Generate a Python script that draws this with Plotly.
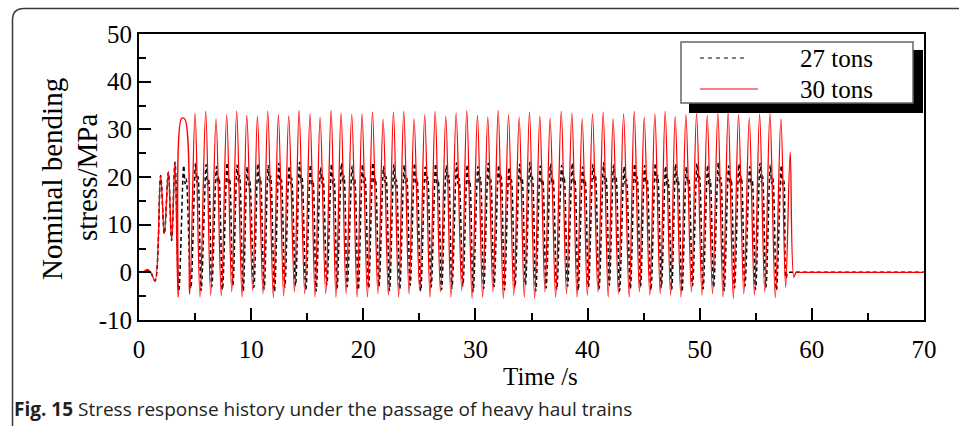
import plotly.graph_objects as go

# Stress extrema (time s, nominal bending stress MPa) for the 30-ton train
red_extrema = [
    (0.0, 0.0), (0.35, 0.1), (0.75, 0.5), (1.05, 0.0), (1.43, -1.8), (1.93, 20.3),
    (2.26, 8.1), (2.62, 21.0), (2.91, 6.7), (3.21, 23.1), (3.48, -5.2), (3.80, 32.3),
    (4.10, 32.1), (4.52, -4.6), (5.00, 33.4), (5.44, -5.2), (5.95, 33.75), (6.39, -4.8),
    (6.87, 32.2), (7.34, -5.0), (7.82, 33.05), (8.27, -4.1), (8.71, 33.8), (9.19, -5.2),
    (9.61, 32.9), (10.14, -3.8), (10.56, 32.7), (11.06, -4.5), (11.48, 33.8), (11.98, -5.3),
    (12.43, 33.05), (12.90, -5.0), (13.35, 32.8), (13.86, -4.1), (14.27, 33.95), (14.78, -4.5),
    (15.25, 33.25), (15.70, -5.2), (16.15, 32.55), (16.65, -4.5), (17.13, 33.95), (17.56, -5.2),
    (18.02, 33.4), (18.47, -4.5), (18.97, 33.1), (19.45, -5.2), (19.89, 33.25), (20.37, -5.2),
    (20.82, 33.6), (21.30, -4.5), (21.77, 32.1), (22.24, -4.8), (22.69, 33.6), (23.15, -5.2),
    (23.61, 33.75), (24.08, -4.5), (24.53, 32.2), (25.02, -3.8), (25.48, 33.05), (25.95, -5.2),
    (26.41, 33.75), (26.88, -4.1), (27.36, 32.7), (27.81, -5.2), (28.28, 33.4), (28.78, -3.8),
    (29.23, 33.95), (29.70, -5.5), (30.18, 32.9), (30.64, -5.2), (31.10, 32.55), (31.56, -4.1),
    (32.03, 33.95), (32.49, -5.5), (32.95, 33.05), (33.42, -4.8), (33.90, 32.55), (34.36, -5.2),
    (34.82, 33.6), (35.28, -5.5), (35.74, 32.7), (36.20, -4.1), (36.66, 32.35), (37.15, -5.2),
    (37.65, 33.75), (38.12, -4.5), (38.60, 33.4), (39.06, -5.2), (39.52, 32.2), (39.98, -4.8),
    (40.44, 33.25), (40.92, -4.1), (41.39, 33.6), (41.84, -5.2), (42.28, 32.2), (42.75, -4.5),
    (43.21, 33.25), (43.71, -5.2), (44.16, 33.75), (44.62, -4.1), (45.05, 32.55), (45.55, -4.8),
    (46.00, 33.25), (46.48, -4.5), (46.92, 33.75), (47.40, -4.8), (47.81, 32.7), (48.32, -5.2),
    (48.77, 33.1), (49.26, -4.1), (49.72, 33.4), (50.20, -4.8), (50.67, 32.9), (51.14, -4.5),
    (51.62, 33.4), (52.08, -5.2), (52.54, 33.6), (53.00, -5.5), (53.46, 33.1), (53.93, -4.5),
    (54.42, 32.4), (54.88, -4.8), (55.34, 33.25), (55.80, -4.1), (56.26, 33.4), (56.74, -5.3),
    (57.24, 32.2), (57.66, -3.1), (58.07, 25.2), (58.40, -1.0), (58.60, 0.0), (58.85, 0.0),
    (60.0, 0.0), (70.0, 0.0),
]

# Stress extrema for the 27-ton train (main peak, shoulder dip, shoulder, trough per axle group)
black_extrema = [
    (0.0, 0.0), (0.35, 0.1), (0.75, 0.5), (1.05, 0.0), (1.43, -1.8), (1.93, 20.3),
    (2.26, 8.1), (2.62, 21.0), (2.91, 6.7), (3.21, 23.1), (3.55, -3.9),
    (3.99, 22.4), (4.11, 18.6), (4.21, 19.6), (4.62, -3.3),
    (5.04, 22.9), (5.16, 18.9), (5.26, 20.1), (5.54, -3.8),
    (5.99, 22.6), (6.11, 18.4), (6.21, 19.4), (6.49, -3.0),
    (6.91, 22.2), (7.03, 18.8), (7.13, 20.0), (7.44, -3.6),
    (7.86, 23.0), (7.98, 18.5), (8.08, 19.7), (8.37, -2.7),
    (8.75, 22.5), (8.87, 19.0), (8.97, 20.3), (9.29, -3.9),
    (9.65, 22.1), (9.77, 18.3), (9.87, 19.2), (10.24, -3.2),
    (10.60, 22.8), (10.72, 18.7), (10.82, 19.9), (11.16, -3.5),
    (11.52, 22.4), (11.64, 18.9), (11.74, 20.2), (12.08, -4.0),
    (12.47, 22.9), (12.59, 18.4), (12.69, 19.5), (13.00, -3.1),
    (13.39, 22.3), (13.51, 18.6), (13.61, 19.8), (13.96, -2.8),
    (14.31, 23.1), (14.43, 18.9), (14.53, 20.0), (14.88, -3.6),
    (15.29, 22.6), (15.41, 18.2), (15.51, 19.3), (15.80, -3.9),
    (16.19, 22.0), (16.31, 18.7), (16.41, 19.9), (16.75, -2.6),
    (17.17, 22.7), (17.29, 18.5), (17.39, 19.6), (17.66, -3.4),
    (18.06, 22.9), (18.18, 19.0), (18.28, 20.2), (18.57, -3.0),
    (19.01, 22.3), (19.13, 18.4), (19.23, 19.5), (19.55, -3.7),
    (19.93, 22.6), (20.05, 18.8), (20.15, 19.9), (20.47, -3.3),
    (20.86, 23.0), (20.98, 18.6), (21.08, 19.7), (21.40, -2.9),
    (21.81, 22.2), (21.93, 18.9), (22.03, 20.1), (22.34, -3.8),
    (22.73, 22.7), (22.85, 18.3), (22.95, 19.4), (23.25, -3.5),
    (23.65, 22.5), (23.77, 18.7), (23.87, 19.8), (24.18, -2.7),
    (24.57, 22.9), (24.69, 18.5), (24.79, 19.6), (25.12, -3.9),
    (25.52, 22.1), (25.64, 18.8), (25.74, 20.0), (26.05, -3.1),
    (26.45, 22.8), (26.57, 18.4), (26.67, 19.5), (26.98, -3.6),
    (27.40, 22.4), (27.52, 18.9), (27.62, 20.3), (27.91, -3.3),
    (28.32, 23.0), (28.44, 18.6), (28.54, 19.7), (28.88, -2.8),
    (29.27, 22.6), (29.39, 18.2), (29.49, 19.3), (29.80, -4.0),
    (30.22, 22.2), (30.34, 18.8), (30.44, 19.9), (30.74, -3.4),
    (31.14, 22.9), (31.26, 18.5), (31.36, 19.6), (31.66, -3.0),
    (32.07, 22.5), (32.19, 19.0), (32.29, 20.2), (32.59, -3.7),
    (32.99, 22.0), (33.11, 18.3), (33.21, 19.4), (33.52, -3.2),
    (33.94, 22.7), (34.06, 18.7), (34.16, 19.8), (34.46, -2.6),
    (34.86, 23.1), (34.98, 18.9), (35.08, 20.0), (35.38, -3.9),
    (35.78, 22.3), (35.90, 18.4), (36.00, 19.5), (36.30, -3.3),
    (36.70, 22.8), (36.82, 18.6), (36.92, 19.7), (37.25, -3.6),
    (37.69, 22.4), (37.81, 18.8), (37.91, 20.1), (38.22, -2.9),
    (38.64, 22.9), (38.76, 18.5), (38.86, 19.6), (39.16, -3.8),
    (39.56, 22.1), (39.68, 18.3), (39.78, 19.4), (40.08, -3.1),
    (40.48, 22.6), (40.60, 18.9), (40.70, 20.2), (41.02, -3.5),
    (41.43, 23.0), (41.55, 18.6), (41.65, 19.8), (41.94, -2.7),
    (42.32, 22.5), (42.44, 18.7), (42.54, 19.9), (42.85, -3.9),
    (43.25, 22.2), (43.37, 18.4), (43.47, 19.5), (43.81, -3.4),
    (44.20, 22.8), (44.32, 18.8), (44.42, 20.0), (44.72, -3.0),
    (45.09, 22.4), (45.21, 18.5), (45.31, 19.6), (45.65, -3.7),
    (46.04, 22.9), (46.16, 18.9), (46.26, 20.3), (46.58, -3.2),
    (46.96, 22.3), (47.08, 18.3), (47.18, 19.4), (47.50, -3.6),
    (47.85, 22.7), (47.97, 18.7), (48.07, 19.8), (48.42, -4.1),
    (48.81, 22.1), (48.93, 18.6), (49.03, 19.7), (49.36, -2.8),
    (49.76, 22.8), (49.88, 18.9), (49.98, 20.1), (50.30, -3.5),
    (50.71, 22.5), (50.83, 18.4), (50.93, 19.5), (51.24, -3.1),
    (51.66, 23.0), (51.78, 18.8), (51.88, 19.9), (52.18, -3.8),
    (52.58, 22.3), (52.70, 18.5), (52.80, 19.6), (53.10, -3.3),
    (53.50, 22.7), (53.62, 18.7), (53.72, 20.0), (54.03, -2.9),
    (54.46, 22.2), (54.58, 18.3), (54.68, 19.4), (54.98, -3.6),
    (55.38, 22.9), (55.50, 18.9), (55.60, 20.2), (55.90, -3.2),
    (56.30, 22.5), (56.42, 18.6), (56.52, 19.7), (56.84, -3.7),
    (57.28, 22.4), (57.40, 18.4), (57.50, 19.2), (57.70, -1.2), (57.85, 0.0), (58.10, 0.0),
    (60.0, 0.0), (70.0, 0.0),
]

red_time = [t for t, _ in red_extrema]
red_stress = [v for _, v in red_extrema]
black_time = [t for t, _ in black_extrema]
black_stress = [v for _, v in black_extrema]

series_names = ["27 tons", "30 tons"]
x_tick_vals = [0, 10, 20, 30, 40, 50, 60, 70]
y_tick_vals = [-10, 0, 10, 20, 30, 40, 50]
y_tick_text = ["-10", "0", "10", "20", "30", "40", "50"]
y_title_lines = ["Nominal bending", "stress/MPa"]
x_title = "Time /s"
caption = "<b>Fig. 15</b> Stress response history under the passage of heavy haul trains"

# figure geometry in pixels
W, H = 959, 426
ML, MR, MT, MB = 139, 35, 34, 106
PW, PH = W - ML - MR, H - MT - MB


def px(x):
    return (x - ML) / PW


def py(y):
    return 1 - (y - MT) / PH


SERIF = "Liberation Serif"

fig = go.Figure()
fig.add_trace(go.Scatter(
    x=black_time, y=black_stress, mode="lines", name=series_names[0], showlegend=False,
    line=dict(color="black", width=1.5, dash="4px,3px", shape="spline", smoothing=1.0),
))
fig.add_trace(go.Scatter(
    x=red_time, y=red_stress, mode="lines", name=series_names[1], showlegend=False,
    line=dict(color="#ff0000", width=1.3, shape="spline", smoothing=1.0),
))

axis_common = dict(
    showline=True, linewidth=2, linecolor="black", mirror=True,
    showgrid=False, zeroline=False,
    ticks="inside", ticklen=12, tickwidth=2, tickcolor="black",
    tickfont=dict(family=SERIF, size=25, color="black"),
)

fig.update_xaxes(
    range=[0, 70], tickvals=x_tick_vals, ticklabelstandoff=6,
    minor=dict(ticks="inside", ticklen=7, tickwidth=2, tickcolor="black", dtick=5, tick0=0),
    **axis_common,
)
fig.update_yaxes(
    range=[-10, 50], tickvals=y_tick_vals, ticktext=y_tick_text,
    minor=dict(ticks="inside", ticklen=7, tickwidth=2, tickcolor="black", dtick=5, tick0=0),
    **axis_common,
)

shapes = [
    # card outline with rounded top-left corner
    dict(type="path", xref="paper", yref="paper",
         path=f"M {px(12.5)},{py(440)} L {px(12.5)},{py(20)} Q {px(12.5)},{py(8.5)} {px(24)},{py(8.5)} L {px(975)},{py(8.5)}",
         line=dict(color="#3a3a3a", width=1.5)),
    # legend drop shadow and box
    dict(type="rect", xref="paper", yref="paper", x0=px(689), x1=px(923), y0=py(113), y1=py(50),
         fillcolor="black", line=dict(width=0), layer="above"),
    dict(type="rect", xref="paper", yref="paper", x0=px(681), x1=px(913), y0=py(103), y1=py(42),
         fillcolor="white", line=dict(color="#666666", width=1.5), layer="above"),
    # legend samples
    dict(type="line", xref="paper", yref="paper", x0=px(700), x1=px(748), y0=py(58), y1=py(58),
         line=dict(color="black", width=1, dash="4px,4px"), layer="above"),
    dict(type="line", xref="paper", yref="paper", x0=px(700), x1=px(758), y0=py(89), y1=py(89),
         line=dict(color="#ff0000", width=1), layer="above"),
]

title_font = dict(family=SERIF, size=29, color="black")
annotations = [
    dict(text=series_names[0], xref="paper", yref="paper", x=px(798), y=py(58),
         xanchor="left", yanchor="middle", showarrow=False,
         font=dict(family=SERIF, size=25, color="black")),
    dict(text=series_names[1], xref="paper", yref="paper", x=px(798), y=py(89),
         xanchor="left", yanchor="middle", showarrow=False,
         font=dict(family=SERIF, size=25, color="black")),
    # axis titles
    dict(text=x_title, xref="paper", yref="paper", x=px(540), y=py(376),
         xanchor="center", yanchor="middle", showarrow=False,
         font=dict(family=SERIF, size=25, color="black")),
    dict(text=y_title_lines[0], xref="paper", yref="paper", x=px(52), y=py(179),
         xanchor="center", yanchor="middle", showarrow=False, textangle=-90, font=title_font),
    dict(text=y_title_lines[1], xref="paper", yref="paper", x=px(87), y=py(178),
         xanchor="center", yanchor="middle", showarrow=False, textangle=-90, font=title_font),
    dict(text=caption, xref="paper", yref="paper", x=px(12), y=py(409),
         xanchor="left", yanchor="middle", showarrow=False,
         font=dict(family="Open Sans", size=19, color="#231f20")),
]

fig.update_layout(
    width=W, height=H,
    margin=dict(l=ML, r=MR, t=MT, b=MB, pad=0),
    paper_bgcolor="white", plot_bgcolor="white",
    font=dict(family=SERIF, color="black"),
    shapes=shapes, annotations=annotations,
    showlegend=False,
)

fig.write_html("out.html")
